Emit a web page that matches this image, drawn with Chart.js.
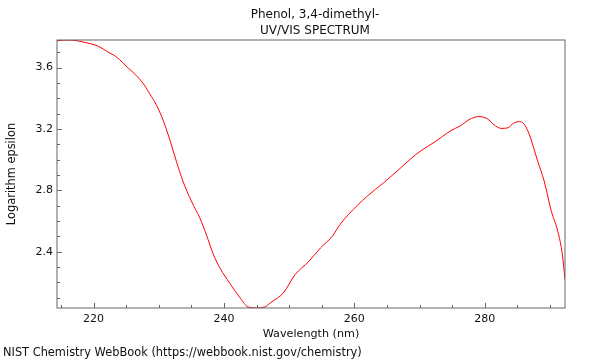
<!DOCTYPE html>
<html>
<head>
<meta charset="utf-8">
<title>Phenol, 3,4-dimethyl- UV/VIS spectrum</title>
<script src="https://cdn.jsdelivr.net/npm/chart.js@4"></script>
<style>
  html, body { margin: 0; padding: 0; background: #fff; }
</style>
</head>
<body>
<canvas id="spectrum" width="600" height="360"></canvas>
<script>
// values
const wavelengths = [214.4, 216.3, 219.1, 220.7, 222.2, 223.5, 225.3, 226.8, 227.8, 228.6,
  229.6, 230.7, 231.7, 232.7, 233.7, 235.0, 236.3, 237.3, 238.4, 239.4,
  240.9, 242.5, 243.7, 245.0, 246.3, 247.1, 249.1, 250.9, 253.0, 254.8,
  256.6, 257.8, 259.1, 262.0, 264.5, 266.6, 268.6, 270.2, 272.2, 274.8,
  276.3, 277.6, 279.1, 280.4, 281.4, 282.5, 283.5, 284.4, 285.3, 286.0,
  286.8, 288.1, 289.1, 290.2, 291.2, 291.9, 292.3];
const logEpsilon = [3.776, 3.780, 3.760, 3.740, 3.702, 3.670, 3.598, 3.538, 3.486, 3.430,
  3.360, 3.254, 3.130, 2.990, 2.861, 2.730, 2.620, 2.511, 2.380, 2.292,
  2.194, 2.098, 2.040, 2.034, 2.040, 2.066, 2.131, 2.250, 2.336, 2.424,
  2.500, 2.577, 2.643, 2.763, 2.850, 2.927, 3.004, 3.058, 3.112, 3.189,
  3.222, 3.261, 3.281, 3.266, 3.228, 3.204, 3.207, 3.237, 3.248, 3.233,
  3.167, 2.992, 2.861, 2.664, 2.533, 2.380, 2.220];
const xTickLabels = [220, 240, 260, 280];
const yTickLabels = [2.4, 2.8, 3.2, 3.6];
const titleLines = ['Phenol, 3,4-dimethyl-', 'UV/VIS SPECTRUM'];
const xTitle = 'Wavelength (nm)';
const yTitle = 'Logarithm epsilon';
const footer = 'NIST Chemistry WebBook (https://webbook.nist.gov/chemistry)';

const FAMILY = '"DejaVu Sans", sans-serif';
const TEXT = '#111';

function isLabelled(list, v) {
  return list.some(t => Math.abs(t - v) < 1e-6);
}

// frame, inward ticks and the texts around the plot
const decorations = {
  id: 'decorations',
  afterDraw: function (chart) {
    const ctx = chart.ctx;
    const area = chart.chartArea;
    const xs = chart.scales.x;
    const ys = chart.scales.y;
    ctx.save();
    ctx.strokeStyle = '#666';
    ctx.lineWidth = 1;
    ctx.beginPath();
    xs.ticks.forEach(t => {
      const px = Math.round(xs.getPixelForValue(t.value)) + 0.5;
      const len = isLabelled(xTickLabels, t.value) ? 5 : 3;
      ctx.moveTo(px, area.bottom);
      ctx.lineTo(px, area.bottom - len);
    });
    ys.ticks.forEach(t => {
      const py = Math.round(ys.getPixelForValue(t.value)) + 0.5;
      const len = isLabelled(yTickLabels, t.value) ? 5 : 3;
      ctx.moveTo(area.left, py);
      ctx.lineTo(area.left + len, py);
    });
    ctx.stroke();
    ctx.strokeRect(area.left, area.top, area.right - area.left, area.bottom - area.top);

    ctx.fillStyle = TEXT;
    ctx.textBaseline = 'alphabetic';
    ctx.textAlign = 'center';
    ctx.font = '12px ' + FAMILY;
    ctx.fillText(titleLines[0], 315, 18);
    ctx.fillText(titleLines[1], 315, 34);
    ctx.font = '11.2px ' + FAMILY;
    ctx.fillText(xTitle, (area.left + area.right) / 2, 337);
    ctx.textAlign = 'left';
    ctx.font = '11.4px ' + FAMILY;
    ctx.fillText(footer, 3, 356);
    ctx.font = '11.4px ' + FAMILY;
    ctx.translate(15, (area.top + area.bottom) / 2);
    ctx.rotate(-Math.PI / 2);
    ctx.textAlign = 'center';
    ctx.fillText(yTitle, 0, 0);
    ctx.restore();
  }
};

new Chart(document.getElementById('spectrum'), {
  type: 'line',
  data: {
    datasets: [{
      data: wavelengths.map((w, i) => ({ x: w, y: logEpsilon[i] })),
      borderColor: '#ff0000',
      borderWidth: 1,
      pointRadius: 0,
      cubicInterpolationMode: 'monotone',
      fill: false
    }]
  },
  options: {
    responsive: false,
    animation: false,
    layout: { padding: { top: 40, right: 35, left: 0, bottom: 0 } },
    plugins: {
      legend: { display: false },
      title: { display: false },
      tooltip: { enabled: false }
    },
    scales: {
      x: {
        type: 'linear',
        min: 214.4,
        max: 292.3,
        grid: { display: false, drawTicks: false, tickLength: 0 },
        border: { display: false },
        ticks: {
          stepSize: 5,
          includeBounds: false,
          autoSkip: false,
          maxRotation: 0,
          padding: 5,
          color: TEXT,
          font: { family: FAMILY, size: 11 },
          callback: v => isLabelled(xTickLabels, v) ? String(v) : ''
        },
        afterFit: scale => { scale.height = 52; }
      },
      y: {
        min: 2.033,
        max: 3.78,
        grid: { display: false, drawTicks: false, tickLength: 0 },
        border: { display: false },
        ticks: {
          stepSize: 0.1,
          includeBounds: false,
          autoSkip: false,
          padding: 4,
          color: TEXT,
          font: { family: FAMILY, size: 11 },
          callback: v => isLabelled(yTickLabels, v) ? v.toFixed(1) : ''
        },
        afterFit: scale => { scale.width = 57; }
      }
    }
  },
  plugins: [decorations]
});
</script>
</body>
</html>
